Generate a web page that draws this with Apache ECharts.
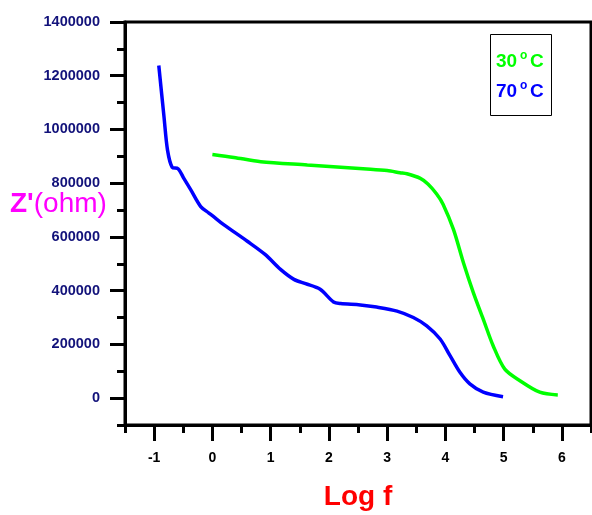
<!DOCTYPE html>
<html>
<head>
<meta charset="utf-8">
<script src="https://cdn.jsdelivr.net/npm/echarts@6/dist/echarts.min.js"></script>
<style>
html,body{margin:0;padding:0;background:#fff;}
#chart{width:592px;height:515px;}
</style>
</head>
<body>
<div id="chart"></div>
<script>
// 70 °C series (Log f, Z')
var logf70 = [-0.92,-0.83,-0.77,-0.69,-0.59,-0.49,-0.37,-0.20,-0.06,0.0,0.20,0.60,0.91,1.17,1.40,1.60,1.85,2.08,2.20,2.54,2.82,3.17,3.45,3.68,3.91,4.08,4.25,4.42,4.65,4.99];
var z70 = [1238000,1046000,923000,859000,854000,818000,775000,713000,689000,679000,645000,584000,534000,479000,442000,426000,405000,358000,352000,347000,339000,324000,300000,269000,220000,158000,96000,53000,22000,5000];
// 30 °C series
var logf30 = [0.0,0.37,0.83,1.63,2.65,3.0,3.22,3.34,3.57,3.70,3.85,3.96,4.14,4.31,4.48,4.65,4.82,5.02,5.28,5.62,5.93];
var z30 = [907000,896000,880000,868000,853000,847000,839000,835000,818000,797000,760000,722000,627000,504000,393000,294000,195000,108000,65000,22000,12000];
// axis ticks
var xMajor = [-1,0,1,2,3,4,5,6];
var yMajor = [0,200000,400000,600000,800000,1000000,1200000,1400000];

function pairs(xs, ys){ return xs.map(function(x,i){ return [x, ys[i]]; }); }

var chart = echarts.init(document.getElementById('chart'));
var lineStyleAxis = {color:'#000', width:3};
var FONT = 'Liberation Sans, Arial';
chart.setOption({
  animation:false,
  backgroundColor:'#fff',
  grid:{left:125, right:1, top:22, bottom:90, show:true, borderColor:'#000', borderWidth:3, containLabel:false},
  xAxis:[{
    type:'value', min:-1.5, max:6.5, interval:0.5, position:'bottom',
    axisLine:{show:true, onZero:false, lineStyle:lineStyleAxis},
    axisTick:{show:true, length:8, lineStyle:{color:'#000', width:3}},
    axisLabel:{show:false}, splitLine:{show:false}
  },{
    type:'value', min:-1.5, max:6.5, position:'bottom',
    axisLine:{show:false, onZero:false},
    axisTick:{show:true, length:16, customValues:xMajor, lineStyle:{color:'#000', width:3}},
    axisLabel:{show:true, customValues:xMajor, margin:26, color:'#000', fontWeight:'bold', fontSize:14, fontFamily:FONT,
      formatter:function(v){return String(v);}},
    splitLine:{show:false}
  }],
  yAxis:[{
    type:'value', min:-100000, max:1400000, interval:100000, position:'left',
    axisLine:{show:true, onZero:false, lineStyle:lineStyleAxis},
    axisTick:{show:true, length:8, lineStyle:{color:'#000', width:3}},
    axisLabel:{show:false}, splitLine:{show:false}
  },{
    type:'value', min:-100000, max:1400000, position:'left',
    axisLine:{show:false, onZero:false},
    axisTick:{show:true, length:15, customValues:yMajor, lineStyle:{color:'#000', width:3}},
    axisLabel:{show:true, customValues:yMajor, margin:25, color:'#12127a', fontWeight:'bold', fontSize:14.5, fontFamily:FONT,
      formatter:function(v){return String(v);}},
    splitLine:{show:false}
  }],
  series:[{
    type:'line', name:'30 °C', data:pairs(logf30, z30), showSymbol:false, smooth:0.3,
    lineStyle:{color:'#00ff00', width:3.5}, z:3
  },{
    type:'line', name:'70 °C', data:pairs(logf70, z70), showSymbol:false, smooth:0.3,
    lineStyle:{color:'#0000ff', width:3.5}, z:3
  }],
  graphic:[
    {type:'text', x:10, y:204, style:{
      text:"{b|Z'}{n|(ohm)}", verticalAlign:'middle',
      rich:{b:{fontSize:28, fontWeight:'bold', fill:'#ff00ff', fontFamily:FONT},
            n:{fontSize:28, fontWeight:'normal', fill:'#ff00ff', fontFamily:FONT}}
    }},
    {type:'text', x:358, y:497, style:{text:'Log f', fill:'#ff0000', fontSize:28, fontWeight:'bold', fontFamily:FONT, align:'center', verticalAlign:'middle'}},
    {type:'rect', shape:{x:490.5, y:34.5, width:61, height:81}, style:{fill:'#fff', stroke:'#000', lineWidth:1}},
    {type:'text', x:496, y:61.5, style:{text:'30', fill:'#00ff00', fontSize:19, fontWeight:'bold', fontFamily:FONT, verticalAlign:'middle'}},
    {type:'text', x:520, y:56, style:{text:'o', fill:'#00ff00', fontSize:12, fontWeight:'bold', fontFamily:FONT, verticalAlign:'middle'}},
    {type:'text', x:530, y:61.5, style:{text:'C', fill:'#00ff00', fontSize:19, fontWeight:'bold', fontFamily:FONT, verticalAlign:'middle'}},
    {type:'text', x:496, y:91.5, style:{text:'70', fill:'#0000ff', fontSize:19, fontWeight:'bold', fontFamily:FONT, verticalAlign:'middle'}},
    {type:'text', x:520, y:86, style:{text:'o', fill:'#0000ff', fontSize:12, fontWeight:'bold', fontFamily:FONT, verticalAlign:'middle'}},
    {type:'text', x:530, y:91.5, style:{text:'C', fill:'#0000ff', fontSize:19, fontWeight:'bold', fontFamily:FONT, verticalAlign:'middle'}}
  ]
});
</script>
</body>
</html>
